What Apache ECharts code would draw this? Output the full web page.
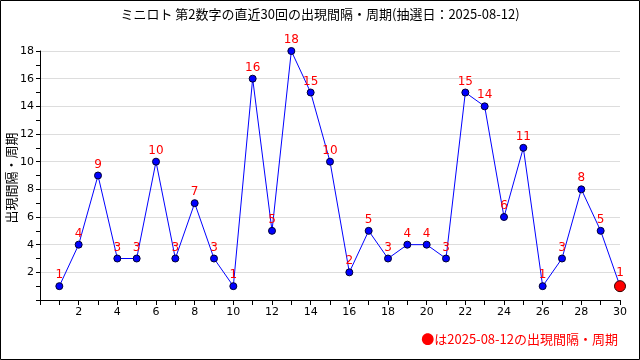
<!DOCTYPE html>
<html><head><meta charset="utf-8">
<script src="https://cdn.jsdelivr.net/npm/echarts@6/dist/echarts.min.js"></script>
<style>html,body{margin:0;padding:0;background:#fff}#c{width:640px;height:360px}</style>
</head><body><div id="c"></div>
<script>
const titleText = "ミニロト 第2数字の直近30回の出現間隔・周期(抽選日：2025-08-12)";
const yAxisName = "出現間隔・周期";
const legendText = "●は2025-08-12の出現間隔・周期";
const draws = [1,2,3,4,5,6,7,8,9,10,11,12,13,14,15,16,17,18,19,20,21,22,23,24,25,26,27,28,29,30];
const intervals = [1,4,9,3,3,10,3,7,3,1,16,5,18,15,10,2,5,3,4,4,3,15,14,6,11,1,3,8,5,1];

const chart = echarts.init(document.getElementById('c'), null, {renderer:'canvas'});
const data = draws.map((d,i)=>{
  const item = {value:[d, intervals[i]]};
  if (i === draws.length-1) {
    item.symbolSize = 11;
    item.itemStyle = {color:'#ff0000', borderColor:'#330000', borderWidth:1};
  }
  return item;
});
const fontNum = 'DejaVu Sans, sans-serif';
const fontJp = '"Noto Sans CJK JP", sans-serif';
chart.setOption({
  animation:false,
  backgroundColor:'#fff',
  title:{text:titleText, left:'center', top:3,
    textStyle:{fontSize:13, fontWeight:'normal', color:'#000', fontFamily:fontJp}},
  grid:{left:40, right:20, top:51, bottom:60, containLabel:false, outerBoundsMode:'none'},
  xAxis:{type:'value', min:0, max:30, interval:2,
    axisLine:{show:true, lineStyle:{color:'#000', width:1}},
    axisTick:{show:true, length:5, lineStyle:{color:'#000'}},
    minorTick:{show:true, splitNumber:2, length:5, lineStyle:{color:'#000'}},
    splitLine:{show:false},
    axisLabel:{margin:7, color:'#000', fontSize:11, fontFamily:fontNum,
      formatter:v=> v===0 ? '' : String(v)}},
  yAxis:{type:'value', min:0, max:18, interval:2,
    axisLine:{show:true, lineStyle:{color:'#000', width:1}},
    axisTick:{show:true, length:4, lineStyle:{color:'#000'}},
    minorTick:{show:true, splitNumber:2, length:4, lineStyle:{color:'#000'}},
    splitLine:{show:true, lineStyle:{color:'#dddddd', width:1}},
    axisLabel:{margin:6, color:'#000', fontSize:11, fontFamily:fontNum,
      formatter:v=> v===0 ? '' : String(v)}},
  series:[{type:'line', data:data, symbol:'circle', symbolSize:7,
    lineStyle:{color:'#0000ff', width:1},
    itemStyle:{color:'#0000ff', borderColor:'#000033', borderWidth:1},
    label:{show:true, position:'top', distance:1, color:'#ff0000', fontSize:12, fontFamily:fontNum,
      formatter:p=>String(p.value[1])}}],
  graphic:[
    {type:'rect', shape:{x:0.5, y:0.5, width:639, height:359}, style:{fill:null, stroke:'#000', lineWidth:1}, silent:true},
    {type:'text', x:11, y:178, rotation:Math.PI/2,
      style:{text:yAxisName, fill:'#000', fontSize:13, fontFamily:fontJp, align:'center', verticalAlign:'middle'}},
    {type:'text', right:22, top:333, style:{text:legendText, fill:'#ff0000', fontSize:13, fontFamily:fontJp}}
  ]
});
</script></body></html>
